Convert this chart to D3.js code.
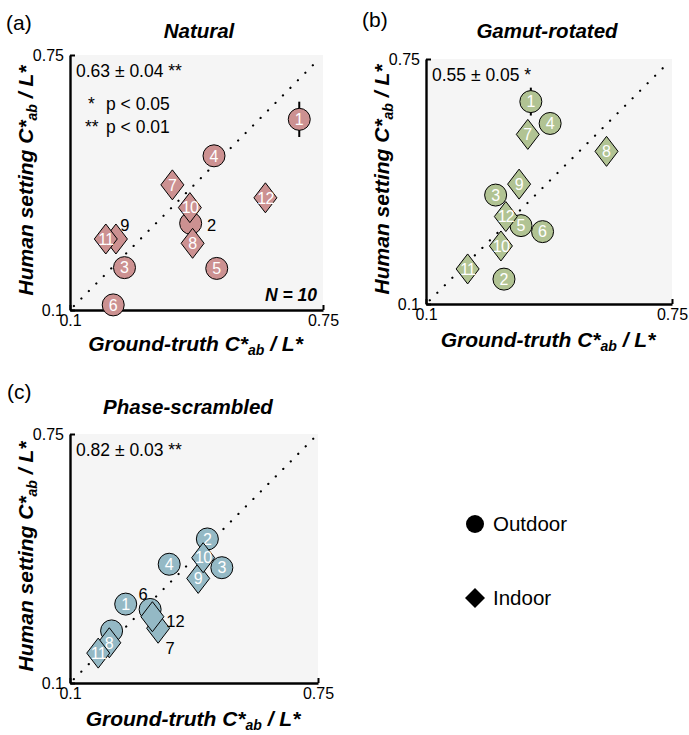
<!DOCTYPE html>
<html>
<head>
<meta charset="utf-8">
<script src="https://cdn.jsdelivr.net/npm/d3@7/dist/d3.min.js"></script>
<style>
  body { margin: 0; background: #fff; }
  svg { font-family: "Liberation Sans", Arial, sans-serif; }
</style>
</head>
<body>
<svg id="chart" width="689" height="735"></svg>
<script>
// ---------- DATA ----------
const imageIds = [1, 2, 3, 4, 5, 6, 7, 8, 9, 10, 11, 12];
const imageType = ["Outdoor","Outdoor","Outdoor","Outdoor","Outdoor","Outdoor",
                   "Indoor","Indoor","Indoor","Indoor","Indoor","Indoor"];

// Panel (a) Natural
const naturalTruth   = [0.689, 0.410, 0.240, 0.470, 0.477, 0.211, 0.363, 0.415, 0.218, 0.408, 0.192, 0.602];
const naturalHuman   = [0.586, 0.321, 0.208, 0.493, 0.206, 0.113, 0.419, 0.270, 0.281, 0.361, 0.281, 0.386];
const naturalErr     = [0.045, 0, 0, 0, 0, 0, 0, 0, 0, 0, 0, 0];

// Panel (b) Gamut-rotated
const rotatedTruth   = [0.377, 0.306, 0.284, 0.428, 0.351, 0.408, 0.369, 0.577, 0.346, 0.298, 0.210, 0.311];
const rotatedHuman   = [0.637, 0.166, 0.389, 0.579, 0.308, 0.292, 0.550, 0.505, 0.418, 0.254, 0.193, 0.332];
const rotatedErr     = [0.037, 0, 0, 0, 0, 0, 0, 0, 0, 0, 0, 0];

// Panel (c) Phase-scrambled
const scrambledTruth = [0.246, 0.460, 0.498, 0.360, 0.209, 0.310, 0.331, 0.203, 0.436, 0.449, 0.174, 0.316];
const scrambledHuman = [0.306, 0.476, 0.401, 0.410, 0.236, 0.292, 0.243, 0.205, 0.373, 0.427, 0.178, 0.273];
const scrambledErr   = [0, 0, 0, 0, 0, 0, 0, 0, 0, 0, 0, 0];

const panelLetters = ["(a)", "(b)", "(c)"];
const panelTitles  = ["Natural", "Gamut-rotated", "Phase-scrambled"];
const panelStats   = ["0.63 ± 0.04 **", "0.55 ± 0.05 *", "0.82 ± 0.03 **"];
const panelColors  = ["#cc9191", "#b1c393", "#94b9c5"];
const axisTicks    = [0.1, 0.75];
const tickLabels   = ["0.1", "0.75"];
const sigStars     = ["*", "**"];
const sigText      = ["p < 0.05", "p < 0.01"];
const nLabel       = "N = 10";
const legendTypes  = ["Outdoor", "Indoor"];
// labels placed outside their marker: [panel, id]; hidden = covered label
const outsideLabels = [[0, 2], [0, 9], [2, 6], [2, 12], [2, 7], [2, 5]];
const hiddenLabels  = [[2, 5]];

// ---------- LAYOUT ----------
const panels = [
  { x0: 70,  x1: 323, y0: 55,  y1: 310, truth: naturalTruth,   human: naturalHuman,   err: naturalErr,
    letterX: 6, letterY: 30, titleX: 199, titleY: 38, xlabY: 351, ylabX: 33 },
  { x0: 426, x1: 672, y0: 59,  y1: 304, truth: rotatedTruth,   human: rotatedHuman,   err: rotatedErr,
    letterX: 362, letterY: 27, titleX: 547, titleY: 38, xlabY: 347, ylabX: 389 },
  { x0: 70,  x1: 318, y0: 434, y1: 683, truth: scrambledTruth, human: scrambledHuman, err: scrambledErr,
    letterX: 7, letterY: 399, titleX: 188, titleY: 414, xlabY: 726, ylabX: 33 }
];
const outsideOffsets = { "0-2": [21, 2], "0-9": [9, -14], "2-6": [-7, -15], "2-12": [23, 4], "2-7": [12, 20] };

const svg = d3.select("#chart");
const R = 11, DW = 11.5, DH = 15;
const diamondPath = (w, h) => `M0,${-h}L${w},0L0,${h}L${-w},0Z`;

panels.forEach((p, pi) => {
  const x = d3.scaleLinear().domain([0.1, 0.75]).range([p.x0, p.x1]);
  const y = d3.scaleLinear().domain([0.1, 0.75]).range([p.y1, p.y0]);
  const g = svg.append("g");

  g.append("rect").attr("x", p.x0).attr("y", p.y0)
    .attr("width", p.x1 - p.x0).attr("height", p.y1 - p.y0).attr("fill", "#f5f5f5");

  g.append("line")
    .attr("x1", x(0.11)).attr("y1", y(0.11)).attr("x2", x(0.74)).attr("y2", y(0.74))
    .attr("stroke", "#000").attr("stroke-width", 2.2)
    .attr("stroke-dasharray", "0.1,10.5").attr("stroke-linecap", "round");

  const xAxis = d3.axisBottom(x).tickValues(axisTicks).tickFormat((d, i) => tickLabels[i])
    .tickSizeInner(-5).tickSizeOuter(0).tickPadding(8);
  const yAxis = d3.axisLeft(y).tickValues(axisTicks).tickFormat((d, i) => tickLabels[i])
    .tickSizeInner(-5).tickSizeOuter(0).tickPadding(6);
  const gx = g.append("g").attr("transform", `translate(0,${p.y1})`).call(xAxis);
  const gy = g.append("g").attr("transform", `translate(${p.x0},0)`).call(yAxis);
  [gx, gy].forEach(a => {
    a.attr("font-size", 16).attr("font-family", "Liberation Sans, Arial, sans-serif");
    a.select(".domain").attr("stroke", "#000").attr("stroke-width", 2.4);
    a.selectAll(".tick line").attr("stroke", "#000").attr("stroke-width", 2);
    a.selectAll(".tick text").attr("fill", "#000");
  });
  gx.selectAll(".tick text").attr("dy", "0.5em");

  const rows = imageIds.map((id, i) => ({ id, type: imageType[i], t: p.truth[i], h: p.human[i], e: p.err[i] }));

  g.selectAll(".err").data(rows.filter(r => r.e > 0)).join("line")
    .attr("x1", r => x(r.t)).attr("x2", r => x(r.t))
    .attr("y1", r => y(r.h - r.e)).attr("y2", r => y(r.h + r.e))
    .attr("stroke", "#000").attr("stroke-width", 2);

  const isOutside = id => outsideLabels.some(o => o[0] === pi && o[1] === id);
  const isHidden = id => hiddenLabels.some(o => o[0] === pi && o[1] === id);

  const order = rows.filter(r => r.type === "Outdoor").concat(rows.filter(r => r.type === "Indoor"));
  order.forEach(r => {
    const m = g.append("g").attr("transform", `translate(${x(r.t)},${y(r.h)})`);
    if (r.type === "Outdoor") {
      m.append("circle").attr("r", R).attr("fill", panelColors[pi]).attr("stroke", "#000").attr("stroke-width", 1);
    } else {
      m.append("path").attr("d", diamondPath(DW, DH)).attr("fill", panelColors[pi]).attr("stroke", "#000").attr("stroke-width", 1);
    }
    if (!isOutside(r.id)) {
      m.append("text").attr("text-anchor", "middle").attr("dy", "0.36em")
        .attr("font-size", 16).attr("fill", "#fff").attr("letter-spacing", r.id > 9 ? -0.8 : 0)
        .text(r.id);
    }
  });
  rows.filter(r => isOutside(r.id) && !isHidden(r.id)).forEach(r => {
    const off = outsideOffsets[`${pi}-${r.id}`];
    g.append("text").attr("x", x(r.t) + off[0]).attr("y", y(r.h) + off[1])
      .attr("text-anchor", "middle").attr("dy", "0.36em").attr("font-size", 16.5).attr("fill", "#000")
      .text(r.id);
  });

  g.append("text").attr("x", p.x0 + 6).attr("y", p.y0 + 22).attr("font-size", 17.5).attr("fill", "#000")
    .text(panelStats[pi]);

  g.append("text").attr("x", p.letterX).attr("y", p.letterY)
    .attr("font-size", 21).attr("fill", "#000").text(panelLetters[pi]);

  g.append("text").attr("x", p.titleX).attr("y", p.titleY)
    .attr("text-anchor", "middle").attr("font-size", 20.5).attr("font-weight", "bold")
    .attr("font-style", "italic").attr("fill", "#000").text(panelTitles[pi]);

  const xl = g.append("text").attr("x", (p.x0 + p.x1) / 2 - 1).attr("y", p.xlabY)
    .attr("text-anchor", "middle").attr("font-size", 21).attr("font-weight", "bold")
    .attr("font-style", "italic").attr("fill", "#000");
  xl.append("tspan").text("Ground-truth C*");
  xl.append("tspan").attr("font-size", 14).attr("dy", 4).text("ab");
  xl.append("tspan").attr("dy", -4).text(" / L*");

  const yl = g.append("text")
    .attr("transform", `translate(${p.ylabX},${(p.y0 + p.y1) / 2 - 2}) rotate(-90)`)
    .attr("text-anchor", "middle").attr("font-size", 21).attr("font-weight", "bold")
    .attr("font-style", "italic").attr("fill", "#000");
  yl.append("tspan").text("Human setting C*");
  yl.append("tspan").attr("font-size", 14).attr("dy", 4).text("ab");
  yl.append("tspan").attr("dy", -4).text(" / L*");
});

// significance legend and N in panel (a)
const pa = panels[0];
sigStars.forEach((s, i) => {
  const t = svg.append("text").attr("y", pa.y0 + 55 + i * 23).attr("font-size", 17.5).attr("fill", "#000");
  t.append("tspan").attr("x", i === 0 ? pa.x0 + 18 : pa.x0 + 15).text(s);
  t.append("tspan").attr("x", pa.x0 + 36).text(sigText[i]);
});
svg.append("text").attr("x", pa.x1 - 6).attr("y", pa.y1 - 9).attr("text-anchor", "end")
  .attr("font-size", 17.5).attr("font-weight", "bold").attr("font-style", "italic").text(nLabel);

// marker legend
legendTypes.forEach((lt, i) => {
  const cy = 524 + i * 74;
  if (lt === "Outdoor") {
    svg.append("circle").attr("cx", 475).attr("cy", cy).attr("r", 9).attr("fill", "#000");
  } else {
    svg.append("path").attr("transform", `translate(475,${cy})`).attr("d", diamondPath(10, 10)).attr("fill", "#000");
  }
  svg.append("text").attr("x", 493).attr("y", cy + 7).attr("font-size", 20.5).attr("fill", "#000").text(lt);
});
</script>
</body>
</html>
